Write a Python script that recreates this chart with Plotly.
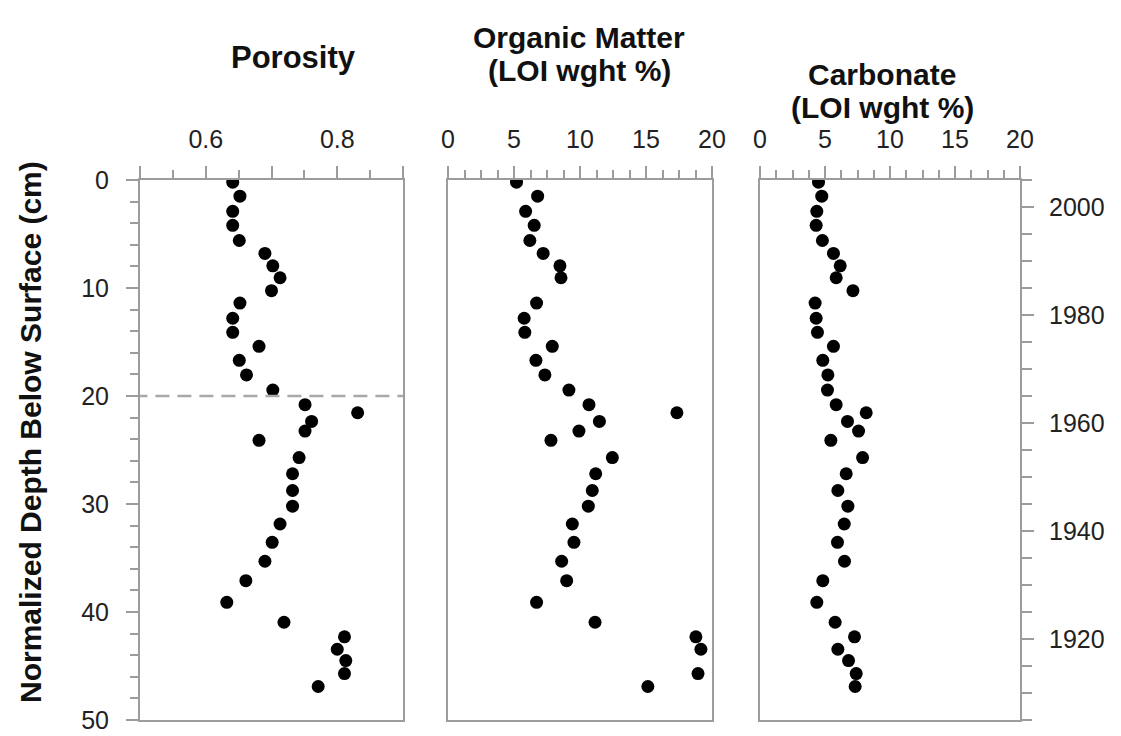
import plotly.graph_objects as go

# ---- data ----
depth_cm = [0.2, 1.5, 2.9, 4.2, 5.6, 6.8, 7.95, 9.05, 10.25, 11.4, 12.8, 14.1,
            15.4, 16.7, 18.05, 19.45, 20.8, 21.55, 22.35, 23.25, 24.1, 25.7,
            27.2, 28.75, 30.2, 31.85, 33.55, 35.3, 37.1, 39.1, 40.95, 42.3,
            43.45, 44.5, 45.7, 46.9]

porosity = [0.641, 0.652, 0.641, 0.641, 0.651, 0.690, 0.702, 0.713, 0.700,
            0.652, 0.641, 0.641, 0.681, 0.651, 0.662, 0.702, 0.751, 0.831,
            0.761, 0.751, 0.681, 0.742, 0.732, 0.732, 0.732, 0.713, 0.701,
            0.690, 0.661, 0.632, 0.719, 0.811, 0.800, 0.813, 0.811, 0.771]

organic_matter = [5.19, 6.79, 5.88, 6.53, 6.2, 7.21, 8.48, 8.56, None, 6.71,
                  5.77, 5.82, 7.9, 6.66, 7.34, 9.16, 10.68, 17.34, 11.47, 9.92,
                  7.8, 12.45, 11.19, 10.93, 10.63, 9.42, 9.54, 8.61, 8.99, 6.71,
                  11.14, 18.78, 19.16, None, 18.94, 15.14]

carbonate = [4.5, 4.75, 4.37, 4.32, 4.8, 5.65, 6.17, 5.86, 7.15, 4.24, 4.32,
             4.42, 5.65, 4.83, 5.22, 5.19, 5.86, 8.17, 6.73, 7.58, 5.45, 7.89,
             6.63, 5.99, 6.76, 6.48, 5.96, 6.5, 4.83, 4.37, 5.78, 7.27, 5.99,
             6.81, 7.4, 7.32]

panel_titles = [["Porosity"], ["Organic Matter", "(LOI wght %)"],
                ["Carbonate", "(LOI wght %)"]]
y_title = "Normalized Depth Below Surface (cm)"
porosity_ticks = [0.5, 0.6, 0.7, 0.8, 0.9]
porosity_ticktext = ["", "0.6", "", "0.8", ""]
depth_ticks = [0, 10, 20, 30, 40, 50]
year_ticks = [1920, 1940, 1960, 1980, 2000]
year_range = [1905, 2005]
depth_range = [50, 0]
boundary_depth = 20

# ---- styling ----
W, H = 1121, 736
FONT = "Liberation Sans, Arial, Helvetica, sans-serif"
AX = "#9c9c9c"
TICKFONT = dict(family=FONT, size=25, color="#222")

def px_x(p):
    return p / W

def px_y(p):
    return 1 - p / H

y_dom = [px_y(720), px_y(180)]
x_doms = [[px_x(140), px_x(403)], [px_x(448), px_x(712)], [px_x(760), px_x(1020)]]

fig = go.Figure()
marker = dict(color="black", size=13)
fig.add_trace(go.Scatter(x=porosity, y=depth_cm, mode="markers", marker=marker,
                         xaxis="x", yaxis="y", showlegend=False))
fig.add_trace(go.Scatter(x=organic_matter, y=depth_cm, mode="markers", marker=marker,
                         xaxis="x2", yaxis="y2", showlegend=False))
fig.add_trace(go.Scatter(x=carbonate, y=depth_cm, mode="markers", marker=marker,
                         xaxis="x3", yaxis="y3", showlegend=False))
# invisible trace so the right-hand year axis is drawn
fig.add_trace(go.Scatter(x=[None, None], y=year_range, mode="markers",
                         marker=dict(opacity=0), xaxis="x3", yaxis="y4",
                         showlegend=False, hoverinfo="skip"))

common_x = dict(side="top", ticks="outside", ticklen=12, tickwidth=1.5,
                tickcolor=AX, showline=True, linecolor=AX, linewidth=2,
                mirror=True, showgrid=False, zeroline=False, tickfont=TICKFONT,
                ticklabelstandoff=8, automargin=False, ticklabeloverflow="allow")

fig.update_layout(
    template="plotly_white",
    width=W, height=H, margin=dict(l=0, r=0, t=0, b=0, autoexpand=False),
    paper_bgcolor="white", plot_bgcolor="white",
    xaxis=dict(domain=x_doms[0], anchor="y", range=[0.5, 0.9],
               tickvals=porosity_ticks, ticktext=porosity_ticktext,
               minor=dict(ticks="outside", ticklen=8, tick0=0.5, dtick=0.05,
                          tickcolor=AX, tickwidth=1.5),
               **common_x),
    xaxis2=dict(domain=x_doms[1], anchor="y2", range=[0, 20], tick0=0, dtick=5,
                minor=dict(ticks="outside", ticklen=8, tick0=0, dtick=1.25,
                           tickcolor=AX, tickwidth=1.5),
                **common_x),
    xaxis3=dict(domain=x_doms[2], anchor="y3", range=[0, 20], tick0=0, dtick=5,
                minor=dict(ticks="outside", ticklen=8, tick0=0, dtick=1.25,
                           tickcolor=AX, tickwidth=1.5),
                **common_x),
    yaxis=dict(domain=y_dom, anchor="x", range=depth_range,
               tickvals=depth_ticks,
               ticks="outside", ticklen=12, tickwidth=1.5, tickcolor=AX,
               minor=dict(ticks="outside", ticklen=8, tick0=0, dtick=2,
                          tickcolor=AX, tickwidth=1.5),
               showline=True, linecolor=AX, linewidth=2, mirror=True,
               showgrid=False, zeroline=False, tickfont=TICKFONT,
               ticklabelstandoff=12, automargin=False, ticklabeloverflow="allow"),
    yaxis2=dict(domain=y_dom, anchor="x2", range=depth_range, showticklabels=False,
                ticks="", showline=True, linecolor=AX, linewidth=2, mirror=True,
                showgrid=False, zeroline=False, automargin=False),
    yaxis3=dict(domain=y_dom, anchor="x3", range=depth_range, showticklabels=False,
                ticks="", showline=True, linecolor=AX, linewidth=2, mirror=True,
                showgrid=False, zeroline=False, automargin=False),
    yaxis4=dict(overlaying="y3", anchor="x3", side="right", range=year_range,
                tickvals=year_ticks, ticks="outside", ticklen=12, tickwidth=1.5,
                tickcolor=AX,
                minor=dict(ticks="outside", ticklen=10, tick0=1905, dtick=5,
                           tickcolor=AX, tickwidth=1.5),
                showline=True, linecolor=AX, linewidth=2, showgrid=False,
                zeroline=False, tickfont=TICKFONT, ticklabelstandoff=10,
                automargin=False, ticklabeloverflow="allow"),
)

# dashed boundary line in the porosity panel
fig.add_shape(type="line", xref="x", yref="y", x0=0.49, x1=0.9,
              y0=boundary_depth, y1=boundary_depth,
              line=dict(color="#a8a8a8", width=2.5, dash="14px,8px"))

# panel titles
title_pos = [(293, [57], 31), (579, [37, 70], 30), (882, [75, 108], 30)]
for lines, (cx, ys, fs) in zip(panel_titles, title_pos):
    for text, cy in zip(lines, ys):
        fig.add_annotation(x=px_x(cx), y=px_y(cy), xref="paper", yref="paper",
                           text="<b>" + text + "</b>", showarrow=False,
                           xanchor="center", yanchor="middle", borderpad=0,
                           font=dict(family=FONT, size=fs, color="#111"))

fig.add_annotation(x=px_x(30), y=px_y(432), xref="paper", yref="paper",
                   text="<b>" + y_title + "</b>", showarrow=False, textangle=-90,
                   xanchor="center", yanchor="middle",
                   font=dict(family=FONT, size=30, color="#111"))

# remove the page's default body margin so the figure sits at the window origin
fig.write_html("out.html", config={"displayModeBar": False},
               post_script="document.body.style.margin='0';")
